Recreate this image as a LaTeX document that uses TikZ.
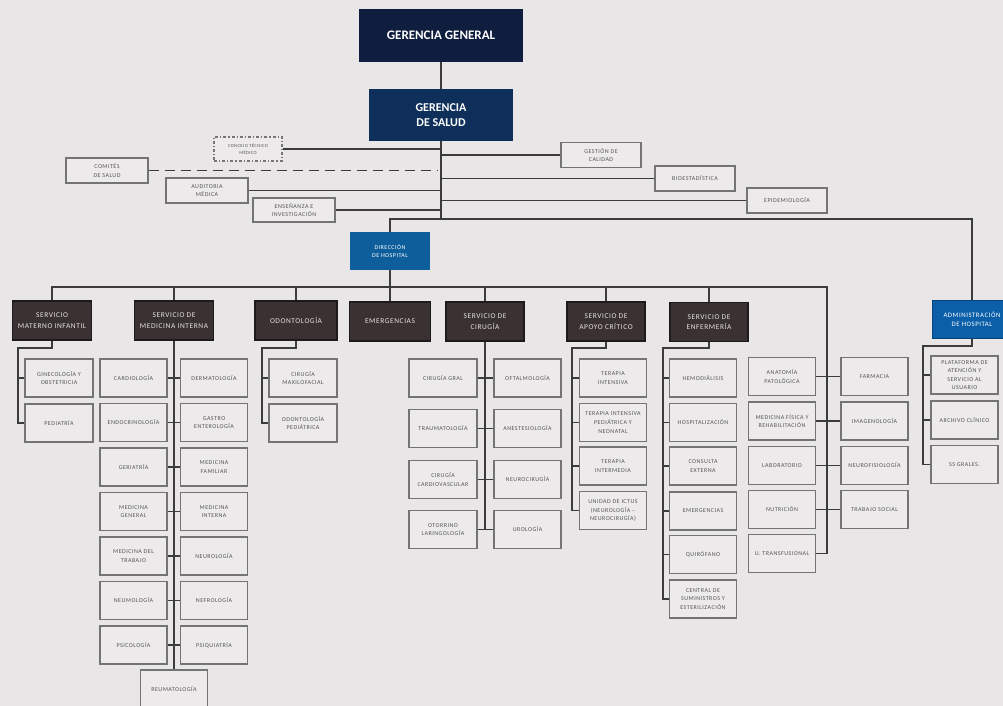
\documentclass[tikz,border=0pt]{standalone}
\usepackage{fontspec}
\setmainfont{Carlito}
\newfontfamily\lsfont[LetterSpace=8]{Carlito}
\usetikzlibrary{calc}
\definecolor{bgc}{HTML}{E8E6E7}
\definecolor{boxc}{HTML}{ECEAEB}
\definecolor{bordc}{HTML}{747474}
\definecolor{txtc}{HTML}{555555}
\definecolor{linec}{HTML}{3C3C3C}
\definecolor{svcc}{HTML}{3A3232}
\definecolor{svcb}{HTML}{1E1A1A}
\definecolor{svct}{HTML}{E8E2E2}
\definecolor{navyA}{HTML}{0F1E3E}
\definecolor{navyB}{HTML}{0E2F5A}
\definecolor{blueA}{HTML}{0E5E9C}
\definecolor{blueB}{HTML}{0A5FA8}
\tikzset{
  sbox/.style={draw=bordc, line width=1.2pt, fill=boxc, text=txtc, align=center,
    font=\lsfont\fontsize{6}{8.6}\selectfont, minimum width=67pt, minimum height=38pt, inner sep=1pt},
  svc/.style={draw=svcb, line width=1.2pt, fill=svcc, text=svct, align=center,
    font=\lsfont\fontsize{7.4}{10.5}\selectfont, minimum width=79pt, minimum height=39pt, inner sep=1pt},
  topbox/.style={draw=none, text=white, align=center, inner sep=1pt},
  conn/.style={draw=linec, line width=1.4pt},
}
\begin{document}
\begin{tikzpicture}[x=1pt,y=-1pt]
\fill[bgc] (0,0) rectangle (1003,706);
\useasboundingbox (0,0) rectangle (1003,706);
\clip (0,0) rectangle (1003,706);

% top
\node[topbox, fill=navyA, minimum width=164pt, minimum height=53pt, font=\bfseries\fontsize{13}{15}\selectfont] (gg) at (441,35.5) {GERENCIA GENERAL};
\node[topbox, fill=navyB, minimum width=144pt, minimum height=52pt, font=\bfseries\fontsize{12}{15}\selectfont] (gs) at (441,115) {GERENCIA\\DE SALUD};

% staff
\node[sbox, minimum width=68pt, minimum height=24pt, dash dot, font=\lsfont\fontsize{4.6}{7}\selectfont] (ctm) at (248,149) {CONCEJO TÉCNICO\\MÉDICO};
\node[sbox, minimum width=82pt, minimum height=25pt] (com) at (107,170.5) {COMITÉS\\DE SALUD};
\node[sbox, minimum width=82pt, minimum height=25pt] (aud) at (207,190.5) {AUDITORIA\\MÉDICA};
\node[sbox, minimum width=82pt, minimum height=24pt] (ens) at (294,210) {ENSEÑANZA E\\INVESTIGACIÓN};
\node[sbox, minimum width=80pt, minimum height=25pt] (gcal) at (601,155) {GESTIÓN DE\\CALIDAD};
\node[sbox, minimum width=80pt, minimum height=25pt] (bio) at (695,178.5) {BIOESTADÍSTICA};
\node[sbox, minimum width=80pt, minimum height=25pt] (epi) at (787,200.5) {EPIDEMIOLOGÍA};

% direction
\node[topbox, fill=blueA, minimum width=80pt, minimum height=38pt, font=\lsfont\fontsize{6}{8.8}\selectfont] (dir) at (390,251) {DIRECCIÓN\\DE HOSPITAL};
\node[topbox, fill=blueB, draw=blueB!70!black, line width=1pt, minimum width=80pt, minimum height=38pt, font=\lsfont\fontsize{6.8}{9.5}\selectfont] (adm) at (972,319) {ADMINISTRACIÓN\\DE HOSPITAL};

% services
\node[svc] (mat) at (52,320.5) {SERVICIO\\MATERNO INFANTIL};
\node[svc] (mi) at (174,320.5) {SERVICIO DE\\MEDICINA INTERNA};
\node[svc, minimum width=82pt] (odo) at (296,320.5) {ODONTOLOGÍA};
\node[svc, minimum width=81pt] (emer) at (390,321.5) {EMERGENCIAS};
\node[svc, minimum width=78pt] (cir) at (485,321.5) {SERVICIO DE\\CIRUGÍA};
\node[svc, minimum width=78pt] (apo) at (606,321.5) {SERVICIO DE\\APOYO CRÍTICO};
\node[svc, minimum width=78pt] (enf) at (709,322) {SERVICIO DE\\ENFERMERÍA};

% materno infantil
\node[sbox, minimum width=68pt] (gin) at (59,378) {GINECOLOGÍA Y\\OBSTETRICIA};
\node[sbox, minimum width=68pt] (ped) at (59,423) {PEDIATRÍA};

% medicina interna
\node[sbox] (card) at (133.5,378) {CARDIOLOGÍA};
\node[sbox] (derm) at (214,378) {DERMATOLOGÍA};
\node[sbox] (endo) at (133.5,422.5) {ENDOCRINOLOGÍA};
\node[sbox] (gast) at (214,422.5) {GASTRO\\ENTEROLOGÍA};
\node[sbox] (geri) at (133.5,467) {GERIATRÍA};
\node[sbox] (mfam) at (214,467) {MEDICINA\\FAMILIAR};
\node[sbox] (mgen) at (133.5,511.5) {MEDICINA\\GENERAL};
\node[sbox] (mint) at (214,511.5) {MEDICINA\\INTERNA};
\node[sbox] (mtra) at (133.5,556) {MEDICINA DEL\\TRABAJO};
\node[sbox] (neur) at (214,556) {NEUROLOGÍA};
\node[sbox] (neum) at (133.5,600.5) {NEUMOLOGÍA};
\node[sbox] (nefr) at (214,600.5) {NEFROLOGÍA};
\node[sbox] (psic) at (133.5,645) {PSICOLOGÍA};
\node[sbox] (psiq) at (214,645) {PSIQUIATRÍA};
\node[sbox] (reum) at (174,689) {REUMATOLOGÍA};

% odontologia
\node[sbox, minimum width=68pt] (cmf) at (303,378) {CIRUGÍA\\MAXILOFACIAL};
\node[sbox, minimum width=68pt] (odp) at (303,423) {ODONTOLOGÍA\\PEDIÁTRICA};

% cirugia
\node[sbox, minimum width=68pt] (cgr) at (443,378) {CIRUGÍA GRAL};
\node[sbox] (ofta) at (527.5,378) {OFTALMOLOGÍA};
\node[sbox, minimum width=68pt] (trau) at (443,428.5) {TRAUMATOLOGÍA};
\node[sbox] (anes) at (527.5,428.5) {ANESTESIOLOGÍA};
\node[sbox, minimum width=68pt] (ccv) at (443,479.5) {CIRUGÍA\\CARDIOVASCULAR};
\node[sbox] (ncir) at (527.5,479.5) {NEUROCIRUGÍA};
\node[sbox, minimum width=68pt] (oto) at (443,529.5) {OTORRINO\\LARINGOLOGÍA};
\node[sbox] (uro) at (527.5,529.5) {UROLOGÍA};

% apoyo critico
\node[sbox] (ti) at (613,378) {TERAPIA\\INTENSIVA};
\node[sbox] (tip) at (613,422.5) {TERAPIA INTENSIVA\\PEDIÁTRICA Y\\NEONATAL};
\node[sbox] (tim) at (613,466) {TERAPIA\\INTERMEDIA};
\node[sbox] (ict) at (613,510.5) {UNIDAD DE ICTUS\\(NEUROLOGÍA –\\NEUROCIRUGÍA)};

% enfermeria
\node[sbox] (hemo) at (703,378) {HEMODIÁLISIS};
\node[sbox] (hosp) at (703,422.5) {HOSPITALIZACIÓN};
\node[sbox] (cons) at (703,466) {CONSULTA\\EXTERNA};
\node[sbox] (emg) at (703,511) {EMERGENCIAS};
\node[sbox] (quir) at (703,554.5) {QUIRÓFANO};
\node[sbox] (cen) at (703,599) {CENTRAL DE\\SUMINISTROS Y\\ESTERILIZACIÓN};

% column 5
\node[sbox] (anat) at (782,376.5) {ANATOMÍA\\PATOLÓGICA};
\node[sbox] (farm) at (874.5,376.5) {FARMACIA};
\node[sbox] (mfis) at (782,421) {MEDICINA FÍSICA Y\\REHABILITACIÓN};
\node[sbox] (imag) at (874.5,421) {IMAGENOLOGÍA};
\node[sbox] (lab) at (782,465.5) {LABORATORIO};
\node[sbox] (nfis) at (874.5,465.5) {NEUROFISIOLOGÍA};
\node[sbox] (nut) at (782,509.5) {NUTRICIÓN};
\node[sbox] (tsoc) at (874.5,509.5) {TRABAJO SOCIAL};
\node[sbox] (ut) at (782,553.5) {U. TRANSFUSIONAL};

% admin
\node[sbox] (plat) at (964.5,375) {PLATAFORMA DE\\ATENCIÓN Y\\SERVICIO AL\\USUARIO};
\node[sbox] (arch) at (964.5,420) {ARCHIVO CLÍNICO};
\node[sbox] (ss) at (964.5,464.5) {SS GRALES.};

% connectors: top
\coordinate (bus) at (441,219);
\draw[conn] (gg) -- (gs);
\draw[conn] (gs.south) -- (bus);
\draw[conn] (ctm.east) -- (ctm.east -| bus);
\draw[conn, dash pattern=on 10pt off 6pt] (com.east) -- ($(com.east -| bus)+(-4,0)$);
\draw[conn] (aud.east) -- (aud.east -| bus);
\draw[conn] (ens.east) -- (ens.east -| bus);
\draw[conn] (gcal.west) -- (gcal.west -| bus);
\draw[conn] (bio.west) -- (bio.west -| bus);
\draw[conn] (epi.west) -- (epi.west -| bus);
\draw[conn] (dir.north) |- (adm.north |- bus) -- (adm.north);

% service bus
\coordinate (sbus) at (827,287);
\draw[conn] (dir.south) -- (emer.north);
\draw[conn] (mat.north) |- (sbus) -- (sbus |- ut.east) -- (ut.east);
\foreach \n in {mi,odo,cir,apo,enf} \draw[conn] (\n.north) -- (\n.north |- sbus);

% materno
\coordinate (matL) at (18,348);
\draw[conn] (mat.south) |- (matL) |- (ped.west);
\draw[conn] (gin.west) -- (gin.west -| matL);

% medicina interna
\draw[conn] (mi.south) -- (reum.north);
\foreach \a/\b in {card/derm,endo/gast,geri/mfam,mgen/mint,mtra/neur,neum/nefr,psic/psiq}
  \draw[conn] (\a.east) -- (\b.west);

% odontologia
\coordinate (odoL) at (262,348);
\draw[conn] (odo.south) |- (odoL) |- (odp.west);
\draw[conn] (cmf.west) -- (cmf.west -| odoL);

% cirugia
\draw[conn] (cir.south) -- (cir.south |- oto.east);
\foreach \a/\b in {cgr/ofta,trau/anes,ccv/ncir,oto/uro}
  \draw[conn] (\a.east) -- (\b.west);

% apoyo critico
\coordinate (apoL) at (572,348);
\draw[conn] (apo.south) |- (apoL) |- (ict.west);
\foreach \a in {ti,tip,tim} \draw[conn] (\a.west) -- (\a.west -| apoL);

% enfermeria
\coordinate (enfL) at (663,348);
\draw[conn] (enf.south) |- (enfL) |- (cen.west);
\foreach \a in {hemo,hosp,cons,emg,quir} \draw[conn] (\a.west) -- (\a.west -| enfL);

% column 5
\foreach \a/\b in {anat/farm,mfis/imag,lab/nfis,nut/tsoc}
  \draw[conn] (\a.east) -- (\b.west);

% admin
\coordinate (admL) at (923,346);
\draw[conn] (adm.south) |- (admL) |- (ss.west);
\foreach \a in {plat,arch} \draw[conn] (\a.west) -- (\a.west -| admL);
\end{tikzpicture}
\end{document}
